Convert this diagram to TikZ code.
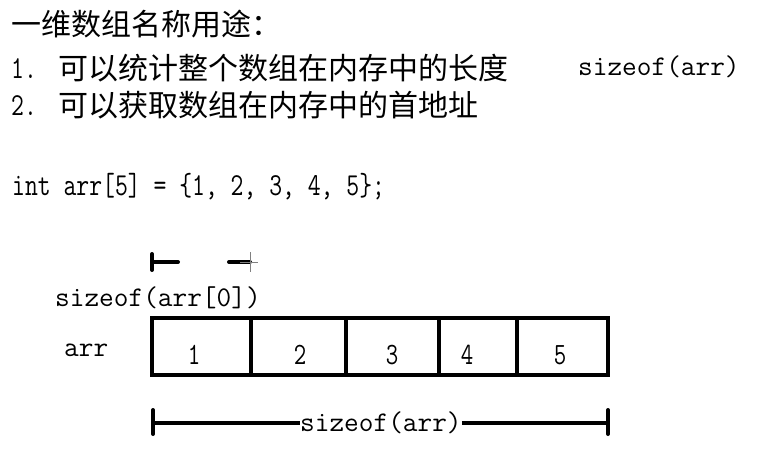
\documentclass[tikz,border=0pt]{standalone}
\usepackage{fontspec}
\usetikzlibrary{calc}
\newfontfamily\cjk{Noto Sans CJK SC}
\newfontfamily\narrowtt[FakeStretch=0.78]{Latin Modern Mono}
\setmonofont{Latin Modern Mono}
\tikzset{
  txt/.style={inner sep=0pt, anchor=west},
  cjktxt/.style={txt, font=\cjk\fontsize{30}{33}\selectfont},
  codetxt/.style={txt, font=\narrowtt\fontsize{32}{35}\selectfont},
  lbltxt/.style={txt, font=\ttfamily\fontsize{28.5}{31}\selectfont},
  numtxt/.style={inner sep=0pt, font=\narrowtt\fontsize{31}{33}\selectfont},
  thick4/.style={line width=4pt},
}
\begin{document}
\begin{tikzpicture}[x=1pt,y=-1pt]
\useasboundingbox (0,0) rectangle (782,452);
\fill[white] (0,0) rectangle (782,452);
% header text
\node[cjktxt] (title) at (11,24) {一维数组名称用途：};
\node[codetxt] (n1) at (11,69) {1.};
\node[cjktxt] (l1) at (58,68) {可以统计整个数组在内存中的长度};
\node[lbltxt] (s1) at (578,67) {sizeof(arr)};
\node[codetxt] (n2) at (11,106) {2.};
\node[cjktxt] (l2) at (58,105) {可以获取数组在内存中的首地址};
\node[codetxt] (code) at (12,187) {int arr[5] = \{1, 2, 3, 4, 5\};};
% array cells
\coordinate (c0) at (152,318);
\coordinate (c1) at (251,318);
\coordinate (c2) at (346,318);
\coordinate (c3) at (439,318);
\coordinate (c4) at (517,318);
\coordinate (c5) at (608,318);
\draw[thick4] (152,318) rectangle (608,375);
\foreach \i in {c1,c2,c3,c4} \draw[thick4] (\i) -- ++(0,57);
\node[numtxt] (v1) at (194,355) {1};
\node[numtxt] (v2) at (300,355) {2};
\node[numtxt] (v3) at (392,355) {3};
\node[numtxt] (v4) at (467,355) {4};
\node[numtxt] (v5) at (560,355) {5};
\node[lbltxt] (arr) at (64,350) {arr};
% sizeof(arr[0]) measure
\node[lbltxt] (s0) at (55,298) {sizeof(arr[0])};
\coordinate (a0) at (152,262);
\coordinate (a1) at (178,262);
\coordinate (b0) at (229,262);
\coordinate (b1) at (250,262);
\draw[thick4, line cap=round] (a0) -- (a1);
\draw[thick4, line cap=round] ($(a0)+(0,-8)$) -- ($(a0)+(0,8)$);
\draw[thick4, line cap=round] (b0) -- (b1);
\draw[line width=1pt, gray] (250,252) -- (250,272) (240,262) -- (258,262);
% sizeof(arr) measure
\node[lbltxt] (s2) at (300,423) {sizeof(arr)};
\coordinate (d0) at (153,423);
\coordinate (d1) at (608,423);
\draw[thick4] (d0) -- (s2.west);
\draw[thick4] (s2.east) -- (d1);
\draw[thick4, line cap=round] (153,410) -- (153,434);
\draw[thick4, line cap=round] (608,410) -- (608,434);
\end{tikzpicture}
\end{document}
